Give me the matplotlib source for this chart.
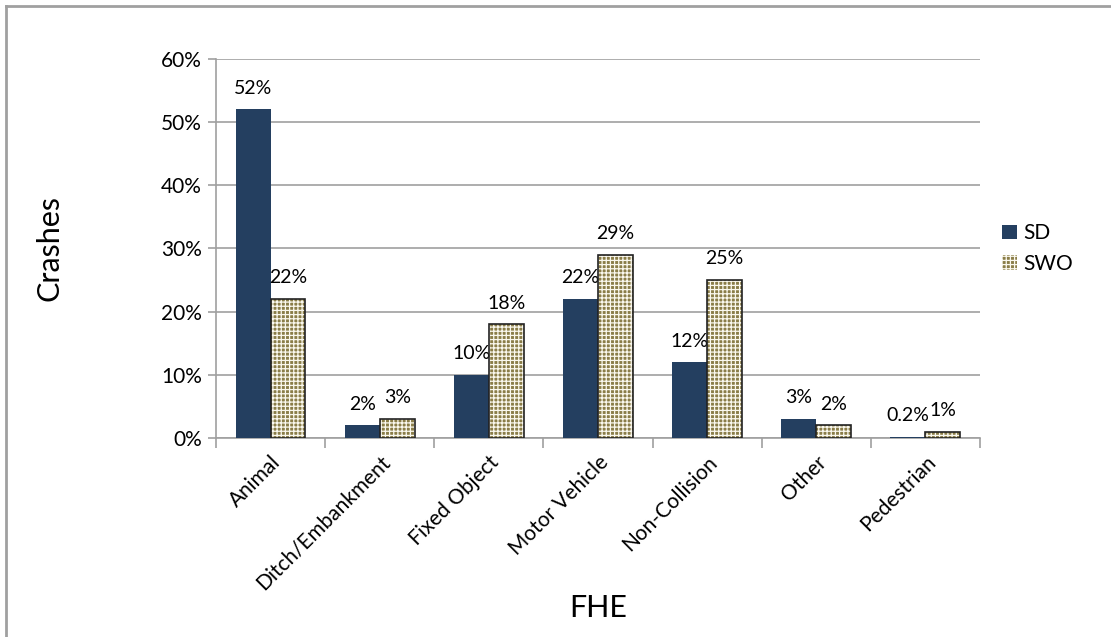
import numpy as np
from matplotlib import pyplot as plt
from matplotlib.lines import Line2D
from matplotlib.patches import Patch

plt.rcParams['font.family'] = ['Lato', 'DejaVu Sans']
plt.rcParams['hatch.linewidth'] = 0.9

categories = ['Animal', 'Ditch/Embankment', 'Fixed Object', 'Motor Vehicle',
              'Non-Collision', 'Other', 'Pedestrian']
sd = [52, 2, 10, 22, 12, 3, 0.2]
swo = [22, 3, 18, 29, 25, 2, 1]
sd_labels = ['52%', '2%', '10%', '22%', '12%', '3%', '0.2%']
swo_labels = ['22%', '3%', '18%', '29%', '25%', '2%', '1%']

navy = '#243F60'
olive = '#8A7D48'
grey = '#A0A0A0'

fig = plt.figure(figsize=(11.11, 6.37), dpi=100)
ax = fig.add_axes([0.1944, 0.3124, 0.6876, 0.5953])

x = np.arange(len(categories))
w = 0.32
ax.bar(x - w / 2, sd, w, color=navy, zorder=3)
# SWO: olive with fine white check pattern, black outline
ax.bar(x + w / 2, swo, w, color=olive, edgecolor='#FAF8EE', hatch='++++', linewidth=0, zorder=3)
ax.bar(x + w / 2, swo, w, facecolor='none', edgecolor='#222222', linewidth=1.2, zorder=4)

for xi, v, t in zip(x, sd, sd_labels):
    ax.text(xi - w / 2, v + 2.0, t, ha='center', va='bottom', fontsize=14)
for xi, v, t in zip(x, swo, swo_labels):
    ax.text(xi + w / 2, v + 2.0, t, ha='center', va='bottom', fontsize=14)

ax.set_xlim(-0.5, len(categories) - 0.5)
ax.set_ylim(0, 60)
ax.set_yticks(range(0, 61, 10))
ax.set_yticklabels([f'{v}%' for v in range(0, 61, 10)], fontsize=15)
ax.yaxis.grid(True, color=grey, linewidth=1.2, zorder=0)
ax.set_axisbelow(True)

ax.set_xticks(np.arange(len(categories) + 1) - 0.5)
ax.set_xticklabels([])
ax.set_xticks(x, minor=True)
ax.set_xticklabels(categories, minor=True, rotation=45, ha='right', rotation_mode='anchor', fontsize=15)
ax.tick_params(axis='x', which='minor', length=0, pad=10)
ax.tick_params(axis='x', which='major', length=7, color=grey, width=1.2)
ax.tick_params(axis='y', length=6, color=grey, width=1.2, pad=4)

for s in ['top', 'right']:
    ax.spines[s].set_visible(False)
for s in ['left', 'bottom']:
    ax.spines[s].set_color(grey)
    ax.spines[s].set_linewidth(1.2)

ax.set_ylabel('Crashes', fontsize=22)
ax.yaxis.set_label_coords(-0.2, 0.5)
ax.set_xlabel('FHE', fontsize=22, labelpad=0)

handles = [Patch(facecolor=navy, label='SD'),
           Patch(facecolor=olive, edgecolor='#FAF8EE', hatch='++++', linewidth=0, label='SWO')]
ax.legend(handles=handles, loc='center left', bbox_to_anchor=(1.005, 0.5), frameon=False,
          fontsize=15, handlelength=0.7, handleheight=0.7, handletextpad=0.3, labelspacing=0.5)

# chart border (left and top)
fig.add_artist(Line2D([6 / 1111, 6 / 1111], [0, 1 - 6 / 637], color=grey, linewidth=2))
fig.add_artist(Line2D([6 / 1111, 1], [1 - 6 / 637, 1 - 6 / 637], color=grey, linewidth=2))

fig.savefig('out.png', dpi=100)
